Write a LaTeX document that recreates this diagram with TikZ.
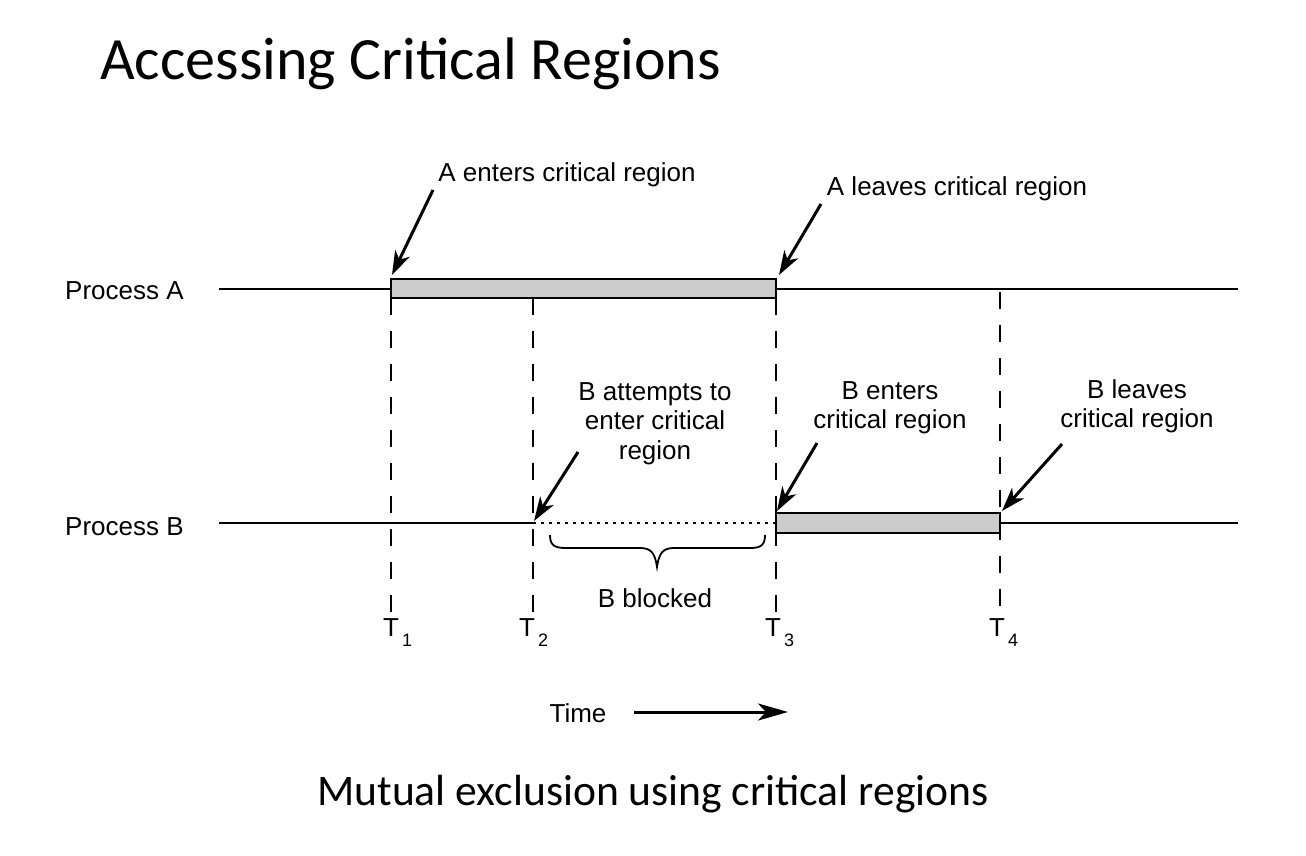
\documentclass[tikz,border=0pt]{standalone}
\usepackage{fontspec}
\setmainfont{Liberation Sans}
\newfontfamily\titlefont{Carlito}
\usetikzlibrary{arrows.meta}
\newcommand{\tsub}[1]{T\kern3pt\raisebox{-10pt}{\fontsize{18}{18}\selectfont #1}}
\begin{document}
\begin{tikzpicture}[x=1pt,y=-1pt,
  lbl/.style={inner sep=0pt, font=\fontsize{26}{29.5}\selectfont},
  mlbl/.style={lbl, align=center, anchor=north},
  tlbl/.style={inner sep=0pt, anchor=base west, font=\fontsize{26}{29}\selectfont},
  procline/.style={line width=2.6pt},
  crbox/.style={draw, line width=2.8pt, fill=black!20},
  dashline/.style={line width=2.6pt, dash pattern=on 17pt off 16pt},
  dotline/.style={line width=2.6pt, dash pattern=on 2.6pt off 5.4pt},
  pointer/.style={line width=3pt, -{Stealth[length=24pt,width=16pt,inset=7pt]}},
  brc/.style={line width=1.8pt}
]
\useasboundingbox (0,0) rectangle (1306,856);
% titles
\node[inner sep=0pt, anchor=base west, font=\titlefont\fontsize{60}{68}\selectfont] (title) at (100,80) {Accessing Critical Regions};
\node[inner sep=0pt, anchor=base, font=\titlefont\fontsize{43.6}{50}\selectfont] (caption) at (653,805) {Mutual exclusion using critical regions};
% process labels
\node[lbl, anchor=base west] (pA) at (65,299) {Process A};
\node[lbl, anchor=base west] (pB) at (65,535) {Process B};
% key points
\coordinate (a0) at (219,289);
\coordinate (a1) at (391,289);
\coordinate (a2) at (776,289);
\coordinate (a3) at (1238,289);
\coordinate (b0) at (219,523);
\coordinate (b1) at (533,523);
\coordinate (b2) at (776,523);
\coordinate (b3) at (1000,523);
\coordinate (b4) at (1238,523);
% dashed time lines
\coordinate (t1top) at (391,298); \coordinate (t1bot) at (391,613);
\coordinate (t2top) at (533,298); \coordinate (t2bot) at (533,613);
\coordinate (t3top) at (776,298); \coordinate (t3bot) at (776,613);
\coordinate (t4top) at (1000,292); \coordinate (t4bot) at (1000,613);
\draw[dashline] (t1top) -- (t1bot);
\draw[dashline] (t2top) -- (t2bot);
\draw[dashline] (t3top) -- (t3bot);
\draw[dashline] (t4top) -- (t4bot);
% process A
\draw[procline] (a0) -- (a1);
\draw[procline] (a2) -- (a3);
\node[crbox, minimum width=385pt, minimum height=19pt, inner sep=0pt] (boxA) at (583.5,288.5) {};
% process B
\draw[procline] (b0) -- (b1);
\draw[dotline] (b1) -- (b2);
\draw[procline] (b3) -- (b4);
\node[crbox, minimum width=224pt, minimum height=20pt, inner sep=0pt] (boxB) at (888,523) {};
% brace
\draw[brc] (550,535) .. controls (550,545) and (554,548) .. (566,548) -- (640,548)
  .. controls (651,548) and (655,553) .. (657,567)
  .. controls (659,553) and (663,548) .. (674,548) -- (750,548)
  .. controls (761,548) and (765,545) .. (765,535);
\node[lbl, anchor=base] (blocked) at (655,607) {B blocked};
% labels
\node[lbl, anchor=base] (lAe) at (567,181) {A enters critical region};
\node[lbl, anchor=base] (lAl) at (957,195) {A leaves critical region};
\node[mlbl] (lBa) at (655,382) {B attempts to\\enter critical\\region};
\node[mlbl] (lBe) at (890,381) {B enters\\critical region};
\node[mlbl] (lBl) at (1137,379) {B leaves\\critical region};
% arrows
\coordinate (pAeT) at (433,190); \coordinate (pAeH) at (392,275);
\coordinate (pAlT) at (821,204); \coordinate (pAlH) at (779,275);
\coordinate (pBaT) at (578,452); \coordinate (pBaH) at (534,521);
\coordinate (pBeT) at (817,443); \coordinate (pBeH) at (777,511);
\coordinate (pBlT) at (1062,444); \coordinate (pBlH) at (1002,511);
\draw[pointer] (pAeT) -- (pAeH);
\draw[pointer] (pAlT) -- (pAlH);
\draw[pointer] (pBaT) -- (pBaH);
\draw[pointer] (pBeT) -- (pBeH);
\draw[pointer] (pBlT) -- (pBlH);
% time labels
\node[tlbl] (T1) at (383,636) {\tsub{1}};
\node[tlbl] (T2) at (519,636) {\tsub{2}};
\node[tlbl] (T3) at (765,636) {\tsub{3}};
\node[tlbl] (T4) at (989,636) {\tsub{4}};
% time arrow
\node[lbl, anchor=base] (time) at (578,722) {Time};
\coordinate (tS) at (634,712); \coordinate (tE) at (788,712);
\draw[line width=3pt, -{Stealth[length=30pt,width=17pt,inset=8pt]}] (tS) -- (tE);
\end{tikzpicture}
\end{document}
